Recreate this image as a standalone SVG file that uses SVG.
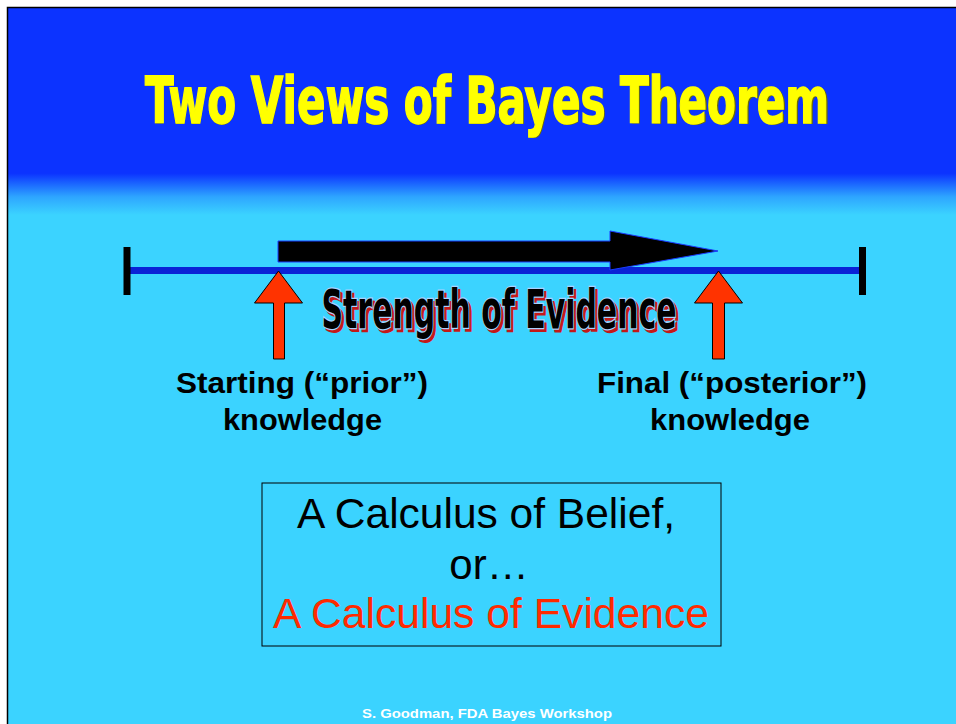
<svg xmlns="http://www.w3.org/2000/svg" width="956" height="724" viewBox="0 0 956 724">
  <defs>
    <linearGradient id="bg" gradientUnits="userSpaceOnUse" x1="0" y1="7" x2="0" y2="724">
      <stop offset="0" stop-color="#0c33ff"/>
      <stop offset="0.232" stop-color="#0c33ff"/>
      <stop offset="0.265" stop-color="#2ea6ff"/>
      <stop offset="0.29" stop-color="#3bd3ff"/>
      <stop offset="1" stop-color="#3bd3ff"/>
    </linearGradient>
    <style>
      .lbl { font-family: "Liberation Sans", Arial, sans-serif; font-weight: bold; font-size: 29px; fill: #000; text-anchor: middle; }
      .box { font-family: "Liberation Sans", Arial, sans-serif; font-size: 42px; text-anchor: middle; }
      .cond { font-family: "Liberation Sans Narrow", "DejaVu Sans Condensed", "Liberation Sans", sans-serif; font-weight: bold; }
      .redarrow { fill: #ff3300; stroke: #000; stroke-width: 1; }
      .tick { stroke: #000; stroke-width: 7; }
    </style>
  </defs>

  <rect x="0" y="0" width="956" height="724" fill="#ffffff"/>
  <rect x="7.5" y="7.5" width="960" height="730" fill="url(#bg)" stroke="#000" stroke-width="1.5"/>

  <g id="title">
    <text class="cond" x="488" y="124" font-size="64" fill="#6e6e00" text-anchor="middle" textLength="686" lengthAdjust="spacingAndGlyphs">Two Views of Bayes Theorem</text>
    <text class="cond" x="487" y="122.5" font-size="64" fill="#ffff00" stroke="#ffff00" stroke-width="1.5" text-anchor="middle" textLength="684" lengthAdjust="spacingAndGlyphs">Two Views of Bayes Theorem</text>
  </g>

  <g id="connectors">
    <line x1="127" y1="270.5" x2="862" y2="270.5" stroke="#0a22d6" stroke-width="7"/>
    <line class="tick" x1="127" y1="247" x2="127" y2="295"/>
    <line class="tick" x1="862.5" y1="247" x2="862.5" y2="295"/>
    <polygon points="278,241 610,241 610,231 718,251 610,270 610,262 278,262" fill="#000" stroke="#1a3cff" stroke-width="1"/>
    <polygon class="redarrow" points="278.5,271 302.5,303 284.5,303 284.5,359 273.5,359 273.5,303 254.5,303"/>
    <polygon class="redarrow" points="718.5,271 742.5,303 724.5,303 724.5,359 712.5,359 712.5,303 694.5,303"/>
  </g>

  <g id="strength">
    <text class="cond" x="501.5" y="330.5" font-size="53" fill="#c41818" stroke="#c41818" stroke-width="2" text-anchor="middle" textLength="355" lengthAdjust="spacingAndGlyphs">Strength of Evidence</text>
    <text class="cond" x="499" y="328" font-size="53" fill="#000" stroke="#a9d2ff" stroke-width="2.5" paint-order="stroke" text-anchor="middle" textLength="355" lengthAdjust="spacingAndGlyphs">Strength of Evidence</text>
  </g>

  <g id="prior">
    <text class="lbl" x="302" y="393" textLength="252" lengthAdjust="spacingAndGlyphs">Starting (“prior”)</text>
    <text class="lbl" x="302.5" y="430" textLength="159" lengthAdjust="spacingAndGlyphs">knowledge</text>
  </g>

  <g id="posterior">
    <text class="lbl" x="732" y="393" textLength="270" lengthAdjust="spacingAndGlyphs">Final (“posterior”)</text>
    <text class="lbl" x="730" y="430" textLength="160" lengthAdjust="spacingAndGlyphs">knowledge</text>
  </g>

  <g id="calculus">
    <rect x="262" y="483" width="459" height="163" fill="none" stroke="#000" stroke-width="1"/>
    <text class="box" x="486" y="528" fill="#000" textLength="378" lengthAdjust="spacingAndGlyphs">A Calculus of Belief,</text>
    <text class="box" x="489" y="579" fill="#000">or…</text>
    <text class="box" x="491" y="628" fill="#ff2a00" textLength="436" lengthAdjust="spacingAndGlyphs">A Calculus of Evidence</text>
  </g>

  <g id="footer">
    <text x="487" y="718" font-family="Liberation Sans, Arial, sans-serif" font-weight="bold" font-size="13" fill="#ffffff" text-anchor="middle" textLength="250" lengthAdjust="spacingAndGlyphs">S. Goodman, FDA Bayes Workshop</text>
  </g>
</svg>
